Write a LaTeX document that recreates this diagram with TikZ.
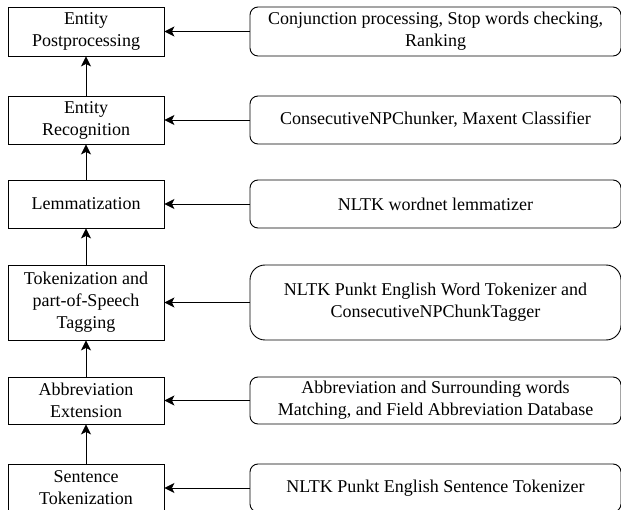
\documentclass[tikz,border=0pt]{standalone}
\usepackage{fontspec}
\setmainfont{Liberation Serif}
\usetikzlibrary{arrows.meta}
\begin{document}
\begin{tikzpicture}[x=1pt,y=-1pt,
  lbox/.style={draw, line width=0.9pt, minimum width=156pt, align=center, inner sep=0pt,
    font=\fontsize{18}{22}\selectfont},
  rbox/.style={draw, line width=0.9pt, rounded corners=8pt, minimum width=371pt, align=center, inner sep=0pt,
    font=\fontsize{18}{22}\selectfont},
  arr/.style={line width=0.9pt, -{Stealth[length=10pt,width=10pt,inset=2.5pt]}}]
\useasboundingbox (0,0) rectangle (621,510);
\node[lbox, minimum height=49pt] (l1) at (86,31.5) {Entity\\Postprocessing};
\node[lbox, minimum height=48pt] (l2) at (86,120) {Entity\\Recognition};
\node[lbox, minimum height=48pt] (l3) at (86,204) {Lemmatization};
\node[lbox, minimum height=75pt] (l4) at (86,302.5) {Tokenization and\\part-of-Speech\\Tagging};
\node[lbox, minimum height=47pt] (l5) at (86,400.5) {Abbreviation\\Extension};
\node[lbox, minimum height=48pt] (l6) at (86,488) {Sentence\\Tokenization};
\node[rbox, minimum height=49pt] (r1) at (435.5,31.5) {Conjunction processing, Stop words checking,\\Ranking};
\node[rbox, minimum height=48pt] (r2) at (435.5,120) {ConsecutiveNPChunker, Maxent Classifier};
\node[rbox, minimum height=48pt] (r3) at (435.5,204) {NLTK wordnet lemmatizer};
\node[rbox, minimum height=75pt, rounded corners=15pt] (r4) at (435.5,302.5) {NLTK Punkt English Word Tokenizer and\\ConsecutiveNPChunkTagger};
\node[rbox, minimum height=47pt] (r5) at (435.5,400.5) {Abbreviation and Surrounding words\\Matching, and Field Abbreviation Database};
\node[rbox, minimum height=48pt] (r6) at (435.5,488) {NLTK Punkt English Sentence Tokenizer};
\foreach \i in {1,...,6} {\draw[arr] (r\i.west) -- (l\i.east);}
\draw[arr] (l6.north) -- (l5.south);
\draw[arr] (l5.north) -- (l4.south);
\draw[arr] (l4.north) -- (l3.south);
\draw[arr] (l3.north) -- (l2.south);
\draw[arr] (l2.north) -- (l1.south);
\end{tikzpicture}
\end{document}
